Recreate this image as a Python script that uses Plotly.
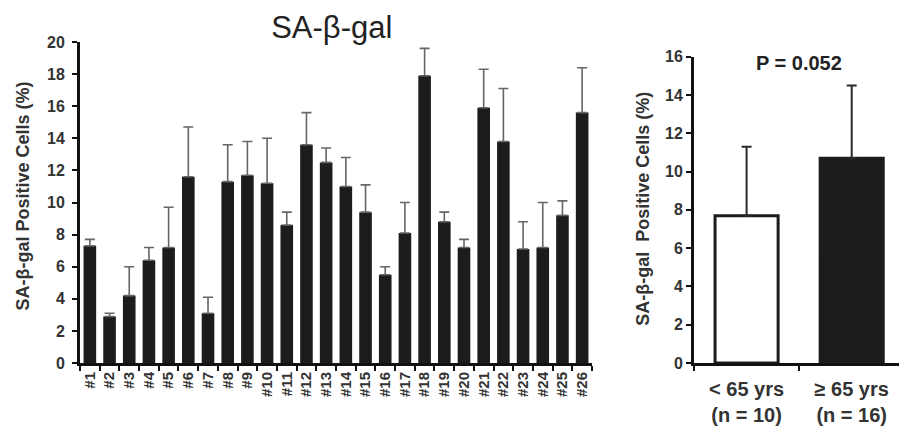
import plotly.graph_objects as go

# Individual samples: mean % SA-β-gal positive cells and upper error (SD)
samples = ["#1", "#2", "#3", "#4", "#5", "#6", "#7", "#8", "#9", "#10", "#11", "#12", "#13",
           "#14", "#15", "#16", "#17", "#18", "#19", "#20", "#21", "#22", "#23", "#24", "#25", "#26"]
sample_means = [7.3, 2.9, 4.2, 6.4, 7.2, 11.6, 3.1, 11.3, 11.7, 11.2, 8.6, 13.6, 12.5,
                11.0, 9.4, 5.5, 8.1, 17.9, 8.8, 7.2, 15.9, 13.8, 7.1, 7.2, 9.2, 15.6]
sample_errors = [0.4, 0.2, 1.8, 0.8, 2.5, 3.1, 1.0, 2.3, 2.1, 2.8, 0.8, 2.0, 0.9,
                 1.8, 1.7, 0.5, 1.9, 1.7, 0.6, 0.5, 2.4, 3.3, 1.7, 2.8, 0.9, 2.8]

# Age groups
groups = ["< 65 yrs<br>(n = 10)", "≥ 65 yrs<br>(n = 16)"]
group_means = [7.7, 10.7]
group_errors = [3.6, 3.8]
group_fill = ["white", "#1c1c1c"]

FONT = "Liberation Sans, Arial, sans-serif"
TICK_COLOR = "#333333"

fig = go.Figure()

fig.add_trace(go.Bar(
    x=samples, y=sample_means, width=0.64,
    marker=dict(color="#1c1c1c", line=dict(width=0)),
    error_y=dict(type="data", array=sample_errors, arrayminus=[0] * len(sample_errors),
                 symmetric=False, color="#666666", thickness=1.6, width=5),
    xaxis="x", yaxis="y", showlegend=False,
))

fig.add_trace(go.Bar(
    x=groups, y=group_means, width=0.6,
    marker=dict(color=group_fill, line=dict(color="#1c1c1c", width=3)),
    error_y=dict(type="data", array=group_errors, arrayminus=[0, 0],
                 symmetric=False, color="#2a2a2a", thickness=2, width=5),
    xaxis="x2", yaxis="y2", showlegend=False,
))

axis_common = dict(showgrid=False, zeroline=False, showline=True, linecolor="#111111",
                   linewidth=3, ticks="outside", tickcolor="#111111", tickwidth=2, ticklen=5)

fig.update_layout(
    width=899, height=432,
    margin=dict(l=0, r=0, t=42, b=69),
    paper_bgcolor="white", plot_bgcolor="white",
    font=dict(family=FONT, color=TICK_COLOR),
    title=dict(text="SA-β-gal", x=0.369, xanchor="center", y=0.9375, yanchor="middle",
               font=dict(size=31, color="#222222", family=FONT)),
    bargap=0.36,
    xaxis=dict(domain=[0.089, 0.6585], type="category", tickson="boundaries",
               tickangle=-90, range=[-0.5, 25.5],
               tickfont=dict(size=15, family=FONT, color=TICK_COLOR, weight="bold"),
               anchor="y", **axis_common),
    yaxis=dict(domain=[0, 1], range=[0, 20], dtick=2, anchor="x", ticklabelstandoff=4,
               tickfont=dict(size=16, family=FONT, color=TICK_COLOR, weight="bold"),
               **axis_common),
    xaxis2=dict(domain=[0.772, 1.0], type="category", tickson="boundaries",
                range=[-0.5, 1.45], ticklabelstandoff=6,
                tickfont=dict(size=20, family=FONT, color=TICK_COLOR, weight="bold"),
                anchor="y2", **axis_common),
    yaxis2=dict(domain=[0, 0.954], range=[0, 16], dtick=2, anchor="x2",
                tickfont=dict(size=16, family=FONT, color=TICK_COLOR, weight="bold"),
                **axis_common),
    annotations=[
        dict(text="SA-β-gal Positive Cells (%)", textangle=-90, showarrow=False,
             xref="paper", yref="paper", x=0.026, y=0.52, xanchor="center", yanchor="middle",
             font=dict(size=18, family=FONT, color=TICK_COLOR, weight="bold")),
        dict(text="SA-β-gal  Positive Cells (%)", textangle=-90, showarrow=False,
             xref="paper", yref="paper", x=0.715, y=0.48, xanchor="center", yanchor="middle",
             font=dict(size=18, family=FONT, color=TICK_COLOR, weight="bold")),
        dict(text="P = 0.052", showarrow=False, xref="x2", yref="y2", x=0.5, y=15.7,
             xanchor="center", yanchor="middle",
             font=dict(size=20, family=FONT, color="#222222", weight="bold")),
    ],
)

fig.write_html("out.html")
